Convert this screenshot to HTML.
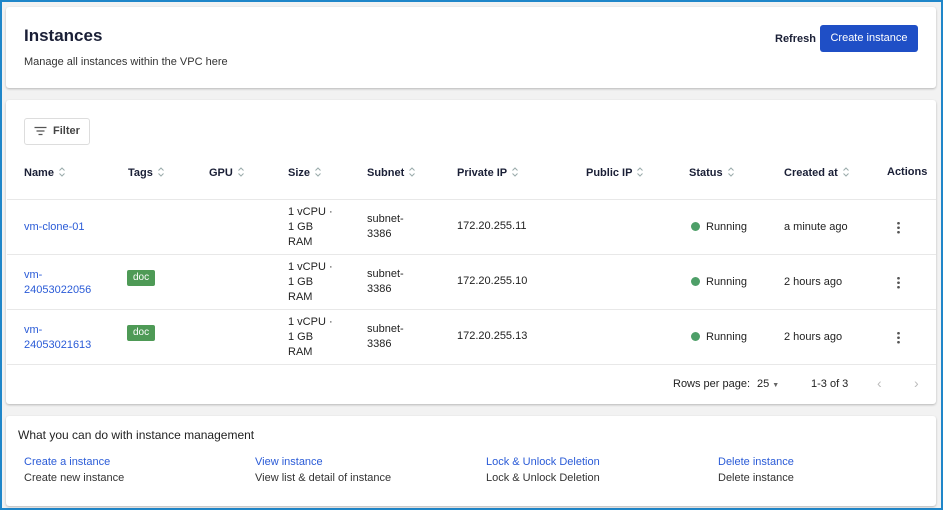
<!DOCTYPE html>
<html><head><style>
*{box-sizing:border-box;margin:0;padding:0}
body{width:943px;height:510px;overflow:hidden;background:#f2f2f2;font-family:"Liberation Sans",sans-serif;color:#222;position:relative}
.frame{position:absolute;left:0;top:0;width:943px;height:510px;border:2px solid #1f86c9}
.card{position:absolute;background:#fff;border-radius:3px;box-shadow:0 1px 2px rgba(0,0,0,.25)}
.a{position:absolute;white-space:nowrap;font-size:11px}
.h{font-weight:bold;color:#1a1f36}
.lk{color:#2a5bd7}
.s{display:inline-block;width:8px;height:12px;vertical-align:-2px;margin-left:4px}
.line{position:absolute;left:7px;width:929px;height:1px;background:#e8e8e8}
.dot{display:inline-block;width:9px;height:9px;border-radius:50%;background:#4e9f68;margin-right:6px;vertical-align:-1px}
.tag{position:absolute;background:#4e9a56;color:#fff;font-size:10px;border-radius:2px;padding:2px 6px;height:16px}
.km{position:absolute;width:3px;height:13px;background:radial-gradient(circle,#555 1.2px,transparent 1.5px) 0 0/3px 4.5px repeat-y}
</style></head><body>
<svg width="0" height="0" style="position:absolute"><defs><symbol id="srt" viewBox="0 0 8 12"><path d="M1.5 4.5L4 2L6.5 4.5M1.5 7.5L4 10L6.5 7.5" fill="none" stroke="#9aa" stroke-width="1"/></symbol></defs></svg>
<div class="frame"></div>
<div class="card" style="left:6px;top:7px;width:930px;height:81px"></div>
<div class="a h" style="left:24px;top:26px;font-size:17px">Instances</div>
<div class="a" style="left:24px;top:56px;color:#333">Manage all instances within the VPC here</div>
<div class="a h" style="left:775px;top:33px">Refresh</div>
<div style="position:absolute;left:820px;top:25px;width:98px;height:27px;background:#1f4fc6;border-radius:3px;color:#fff;font-size:11px;text-align:center;line-height:27px">Create instance</div>

<div class="card" style="left:6px;top:100px;width:930px;height:304px"></div>
<div style="position:absolute;left:24px;top:118px;width:66px;height:27px;border:1px solid #ddd;border-radius:3px;background:#fff"></div>
<svg style="position:absolute;left:34px;top:126px" width="13" height="10"><path d="M0.5 1.5H12.5M2.5 5H10.5M4.5 8.5H8.5" stroke="#555" stroke-width="1.2"/></svg>
<div class="a h" style="left:53px;top:125px;color:#444">Filter</div>

<div class="a h" style="left:24px;top:166px">Name<svg class="s"><use href="#srt"/></svg></div>
<div class="a h" style="left:128px;top:166px">Tags<svg class="s"><use href="#srt"/></svg></div>
<div class="a h" style="left:209px;top:166px">GPU<svg class="s"><use href="#srt"/></svg></div>
<div class="a h" style="left:288px;top:166px">Size<svg class="s"><use href="#srt"/></svg></div>
<div class="a h" style="left:367px;top:166px">Subnet<svg class="s"><use href="#srt"/></svg></div>
<div class="a h" style="left:457px;top:166px">Private IP<svg class="s"><use href="#srt"/></svg></div>
<div class="a h" style="left:586px;top:166px">Public IP<svg class="s"><use href="#srt"/></svg></div>
<div class="a h" style="left:689px;top:166px">Status<svg class="s"><use href="#srt"/></svg></div>
<div class="a h" style="left:784px;top:166px">Created at<svg class="s"><use href="#srt"/></svg></div>
<div class="a h" style="left:887px;top:166px">Actions</div>
<div class="line" style="top:199px"></div>

<div class="a lk" style="left:24px;top:221px">vm-clone-01</div>
<div class="a" style="left:288px;top:205px;line-height:15px">1 vCPU ·<br>1 GB<br>RAM</div>
<div class="a" style="left:367px;top:212px;line-height:15px">subnet-<br>3386</div>
<div class="a" style="left:457px;top:220px">172.20.255.11</div>
<div class="a" style="left:691px;top:221px"><span class="dot"></span>Running</div>
<div class="a" style="left:784px;top:221px">a minute ago</div>
<div class="km" style="left:897px;top:221px"></div>
<div class="line" style="top:254px"></div>

<div class="a lk" style="left:24px;top:268px;line-height:15px">vm-<br>24053022056</div>
<div class="tag" style="left:127px;top:270px">doc</div>
<div class="a" style="left:288px;top:260px;line-height:15px">1 vCPU ·<br>1 GB<br>RAM</div>
<div class="a" style="left:367px;top:267px;line-height:15px">subnet-<br>3386</div>
<div class="a" style="left:457px;top:275px">172.20.255.10</div>
<div class="a" style="left:691px;top:276px"><span class="dot"></span>Running</div>
<div class="a" style="left:784px;top:276px">2 hours ago</div>
<div class="km" style="left:897px;top:276px"></div>
<div class="line" style="top:309px"></div>

<div class="a lk" style="left:24px;top:323px;line-height:15px">vm-<br>24053021613</div>
<div class="tag" style="left:127px;top:325px">doc</div>
<div class="a" style="left:288px;top:315px;line-height:15px">1 vCPU ·<br>1 GB<br>RAM</div>
<div class="a" style="left:367px;top:322px;line-height:15px">subnet-<br>3386</div>
<div class="a" style="left:457px;top:330px">172.20.255.13</div>
<div class="a" style="left:691px;top:331px"><span class="dot"></span>Running</div>
<div class="a" style="left:784px;top:331px">2 hours ago</div>
<div class="km" style="left:897px;top:331px"></div>
<div class="line" style="top:364px"></div>

<div class="a" style="left:673px;top:378px">Rows per page:</div>
<div class="a" style="left:757px;top:378px">25 <span style="font-size:7px;color:#666">▼</span></div>
<div class="a" style="left:811px;top:378px">1-3 of 3</div>
<div class="a" style="left:877px;top:375px;color:#bbb;font-size:14px">‹</div>
<div class="a" style="left:914px;top:375px;color:#bbb;font-size:14px">›</div>

<div class="card" style="left:6px;top:416px;width:930px;height:90px"></div>
<div class="a" style="left:18px;top:428px;font-size:12px;color:#222">What you can do with instance management</div>
<div class="a lk" style="left:24px;top:456px">Create a instance</div>
<div class="a" style="left:24px;top:472px;color:#333">Create new instance</div>
<div class="a lk" style="left:255px;top:456px">View instance</div>
<div class="a" style="left:255px;top:472px;color:#333">View list &amp; detail of instance</div>
<div class="a lk" style="left:486px;top:456px">Lock &amp; Unlock Deletion</div>
<div class="a" style="left:486px;top:472px;color:#333">Lock &amp; Unlock Deletion</div>
<div class="a lk" style="left:718px;top:456px">Delete instance</div>
<div class="a" style="left:718px;top:472px;color:#333">Delete instance</div>
</body></html>
